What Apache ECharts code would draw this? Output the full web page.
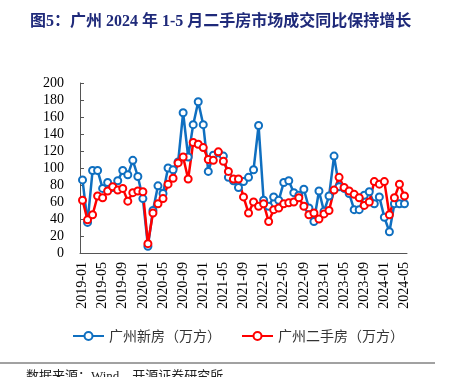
<!DOCTYPE html>
<html>
<head>
<meta charset="utf-8">
<script src="https://cdn.jsdelivr.net/npm/echarts@6/dist/echarts.min.js"></script>
<style>
  html, body { margin: 0; padding: 0; background: #fff; }
  #chart { width: 449px; height: 377px; }
</style>
</head>
<body>
<div id="chart"></div>
<script>
// 月份 2019-01 ~ 2024-05
var months = []
for (var y = 2019; y <= 2024; y++) {
  for (var m = 1; m <= 12; m++) {
    if (y === 2024 && m > 5) break
    months.push(y + '-' + (m < 10 ? '0' + m : m))
  }
}

// 广州新房（万方）
var newHouse = [
  86, 36, 97, 97, 76, 83, 77, 85, 97, 92, 109, 90,
  64, 8, 50, 79, 70, 100, 98, 107, 165, 113, 151, 178,
  151, 96, 115, 118, 114, 89, 85, 77, 84, 89, 98, 150,
  62, 55, 66, 62, 83, 85, 71, 68, 75, 53, 37, 73,
  49, 67, 114, 78, 76, 70, 51, 51, 68, 72, 58, 66,
  42, 25, 58, 58, 58
]

// 广州二手房（万方）
var secondHouse = [
  62, 39, 45, 67, 65, 73, 78, 74, 76, 61, 71, 73,
  72, 11, 47, 58, 64, 81, 88, 106, 113, 87, 130, 128,
  124, 110, 109, 119, 108, 96, 87, 87, 66, 47, 60, 55,
  58, 37, 51, 53, 58, 59, 60, 65, 55, 45, 47, 40,
  46, 50, 74, 89, 77, 73, 69, 65, 56, 60, 84, 81,
  84, 45, 65, 81, 67
]

var serif = 'Liberation Serif, Noto Sans CJK SC, serif'

var myChart = echarts.init(document.getElementById('chart'))

function lineSeries (name, data, color) {
  return {
    name: name,
    type: 'line',
    data: data,
    symbol: 'circle',
    symbolSize: 7,
    showAllSymbol: true,
    lineStyle: { color: color, width: 2.5 },
    itemStyle: { color: '#fff', borderColor: color, borderWidth: 2 }
  }
}

var option = {
  animation: false,
  backgroundColor: '#fff',
  title: {
    text: '图5：广州 2024 年 1-5 月二手房市场成交同比保持增长',
    left: 25,
    top: 9,
    textStyle: {
      color: '#1f2a7a',
      fontSize: 16,
      fontWeight: 'bold',
      fontFamily: serif
    }
  },
  legend: {
    left: 67,
    top: 324,
    itemWidth: 31,
    itemHeight: 10,
    itemGap: 20,
    textStyle: {
      color: '#333',
      fontSize: 14,
      fontFamily: 'Noto Sans CJK SC'
    },
    data: ['广州新房（万方）', '广州二手房（万方）']
  },
  grid: {
    left: 80,
    right: 42,
    top: 83,
    bottom: 124
  },
  xAxis: {
    type: 'category',
    data: months,
    boundaryGap: true,
    axisLine: { lineStyle: { color: '#555', width: 1 } },
    axisTick: { interval: 3, length: 4, inside: true, lineStyle: { color: '#555' } },
    axisLabel: {
      interval: 3,
      rotate: 90,
      color: '#000',
      fontSize: 14,
      fontFamily: serif,
      margin: 9
    }
  },
  yAxis: {
    type: 'value',
    min: 0,
    max: 200,
    interval: 20,
    axisLine: { show: true, lineStyle: { color: '#555', width: 1 } },
    axisTick: { show: true, length: 4, inside: true, lineStyle: { color: '#555' } },
    splitLine: { show: false },
    axisLabel: {
      color: '#000',
      fontSize: 14,
      fontFamily: serif,
      margin: 16
    }
  },
  series: [
    lineSeries('广州新房（万方）', newHouse, '#0f6fc0'),
    lineSeries('广州二手房（万方）', secondHouse, '#ff0000')
  ],
  graphic: [
    {
      type: 'line',
      shape: { x1: 0, y1: 363, x2: 435, y2: 363 },
      style: { stroke: '#444', lineWidth: 1 }
    },
    {
      type: 'text',
      left: 26,
      top: 370,
      style: {
        text: '数据来源：Wind、开源证券研究所',
        fill: '#222',
        font: '13px ' + serif
      }
    }
  ]
}
myChart.setOption(option, true)
</script>
</body>
</html>
